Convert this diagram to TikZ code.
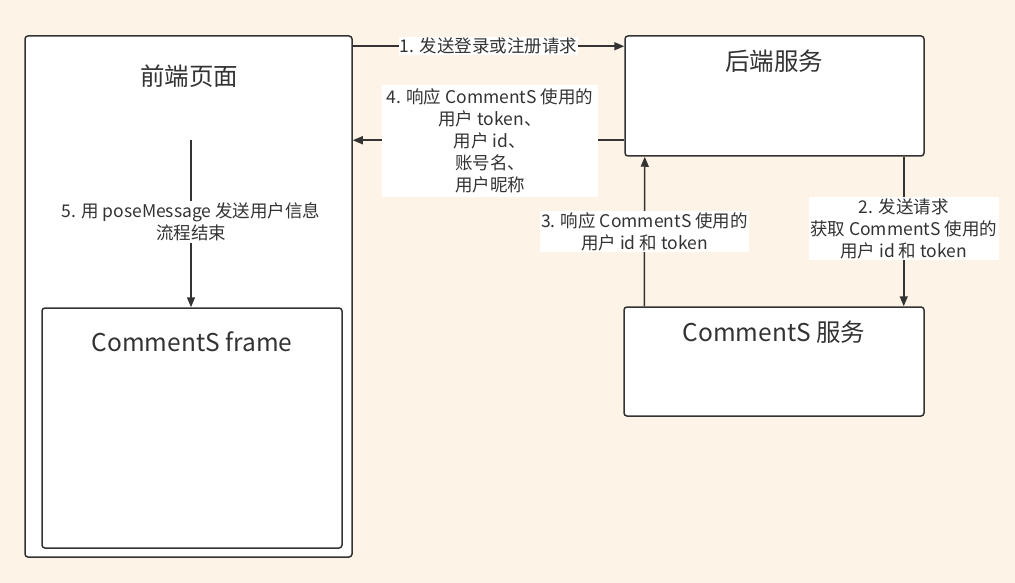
\documentclass[tikz,border=0pt]{standalone}
\usepackage{fontspec}
\setmainfont{Noto Sans CJK SC}
\usetikzlibrary{arrows.meta,calc}
\definecolor{bgc}{HTML}{FDF4E7}
\definecolor{ink}{HTML}{333333}
\tikzset{
  box/.style={draw=ink, line width=1.5pt, fill=white, rounded corners=3pt, inner sep=0pt},
  ttl/.style={text=ink, font=\fontsize{24.5}{28}\selectfont, inner sep=0pt},
  arr/.style={draw=ink, line width=1.5pt, -{Triangle[length=10pt,width=8pt]}},
  lbl/.style={fill=white, text=ink, align=center, font=\fontsize{17.5}{22}\selectfont, inner sep=1.5pt},
}
\begin{document}
\begin{tikzpicture}[x=1pt,y=-1pt]
\fill[bgc] (0,0) rectangle (1015,583);
\useasboundingbox (0,0) rectangle (1015,583);
% boxes
\node[box, minimum width=327pt, minimum height=521pt] (fe) at (188.5,296.5) {};
\node[box, minimum width=300pt, minimum height=240pt] (fr) at (192,428) {};
\node[box, minimum width=299pt, minimum height=120pt] (be) at (774.5,96) {};
\node[box, minimum width=300pt, minimum height=109pt] (cs) at (774,361.5) {};
% titles
\node[ttl] (tfe) at (189,76) {前端页面};
\node[ttl] (tfr) at (192,342) {CommentS frame};
\node[ttl] (tbe) at (774,61) {后端服务};
\node[ttl] (tcs) at (774,332) {CommentS 服务};
% arrow 1
\draw[arr] ($(fe.north east)+(0,11)$) -- node[lbl, inner sep=1pt] (l1) {1. 发送登录或注册请求} ($(be.north west)+(0,11)$);
% arrow 4
\draw[arr] ($(be.north west)+(0,105)$) -- ($(fe.north east)+(0,105)$);
\node[lbl, minimum width=216pt, minimum height=112pt] (l4) at (490,141) {4. 响应 CommentS 使用的\\用户 token、\\用户 id、\\账号名、\\用户昵称};
% arrow 3
\draw[arr] ($(cs.north west)+(21,0)$) -- node[lbl] (l3) {3. 响应 CommentS 使用的\\用户 id 和 token} ($(be.south west)+(20.5,0)$);
% arrow 2
\draw[arr] ($(be.south east)+(-21,0)$) -- node[lbl, pos=0.48] (l2) {2. 发送请求\\获取 CommentS 使用的\\用户 id 和 token} ($(cs.north east)+(-21,0)$);
% arrow 5
\coordinate (s5) at (191,140);
\draw[arr] (s5) -- node[lbl, pos=0.49] (l5) {5. 用 poseMessage 发送用户信息\\流程结束} (fr.north -| s5);
\end{tikzpicture}
\end{document}
